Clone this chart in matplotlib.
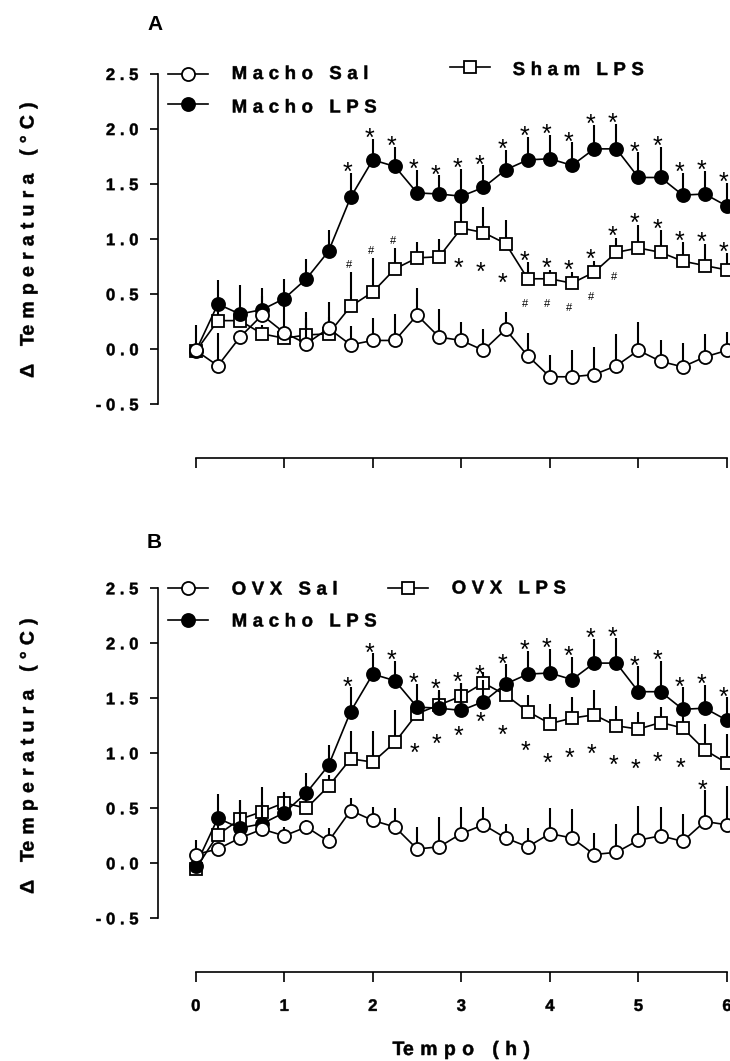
import numpy as np
import matplotlib
matplotlib.use("Agg")
import matplotlib.pyplot as plt
from matplotlib.path import Path
from matplotlib.patheffects import AbstractPathEffect
from matplotlib.transforms import offset_copy
from matplotlib.lines import Line2D

plt.rcParams['font.family'] = ['Liberation Sans', 'DejaVu Sans']

# ---------------- data ----------------
time_h = [0, 0.25, 0.5, 0.75, 1.0, 1.25, 1.5, 1.75, 2.0, 2.25, 2.5, 2.75, 3.0,
          3.25, 3.5, 3.75, 4.0, 4.25, 4.5, 4.75, 5.0, 5.25, 5.5, 5.75, 6.0]

# Panel A
macho_sal = [-0.01, -0.15, 0.11, 0.31, 0.15, 0.05, 0.19, 0.04, 0.08, 0.08, 0.31, 0.11, 0.08,
             -0.01, 0.18, -0.06, -0.25, -0.25, -0.23, -0.15, -0.01, -0.11, -0.16, -0.07, -0.01]
macho_sal_sem = [0.23, 0.30, 0.05, 0.17, 0.25, 0.29, 0.24, 0.17, 0.20, 0.24, 0.25, 0.26, 0.17,
                 0.19, 0.16, 0.21, 0.20, 0.24, 0.25, 0.29, 0.26, 0.19, 0.22, 0.21, 0.17]

macho_lps = [-0.02, 0.41, 0.32, 0.36, 0.46, 0.64, 0.89, 1.38, 1.72, 1.66, 1.42, 1.41, 1.39,
             1.47, 1.63, 1.72, 1.73, 1.67, 1.82, 1.82, 1.56, 1.56, 1.40, 1.41, 1.30]
macho_lps_sem = [0.05, 0.22, 0.26, 0.20, 0.18, 0.18, 0.19, 0.22, 0.19, 0.18, 0.21, 0.17, 0.25,
                 0.20, 0.18, 0.21, 0.22, 0.21, 0.22, 0.23, 0.23, 0.28, 0.20, 0.21, 0.21]

sham_lps = [-0.02, 0.26, 0.26, 0.14, 0.10, 0.13, 0.14, 0.39, 0.52, 0.73, 0.83, 0.84, 1.10,
            1.06, 0.96, 0.64, 0.64, 0.60, 0.70, 0.88, 0.92, 0.88, 0.80, 0.76, 0.72]
sham_lps_sem = [0.05, 0.12, 0.10, 0.08, 0.10, 0.15, 0.15, 0.31, 0.31, 0.19, 0.14, 0.16, 0.30,
                0.23, 0.21, 0.15, 0.08, 0.10, 0.10, 0.13, 0.21, 0.20, 0.17, 0.20, 0.15]

# Panel B
ovx_sal = [0.08, 0.13, 0.23, 0.31, 0.25, 0.33, 0.20, 0.48, 0.39, 0.33, 0.13, 0.15, 0.27,
           0.35, 0.23, 0.15, 0.27, 0.23, 0.08, 0.10, 0.21, 0.25, 0.20, 0.38, 0.35]
ovx_sal_sem = [0.13, 0.05, 0.05, 0.08, 0.08, 0.06, 0.12, 0.11, 0.12, 0.17, 0.20, 0.27, 0.24,
               0.16, 0.13, 0.17, 0.23, 0.26, 0.20, 0.26, 0.31, 0.26, 0.25, 0.29, 0.35]

ovx_lps = [-0.05, 0.26, 0.40, 0.47, 0.55, 0.50, 0.70, 0.95, 0.92, 1.10, 1.36, 1.44, 1.52,
           1.64, 1.53, 1.38, 1.27, 1.32, 1.35, 1.25, 1.22, 1.28, 1.23, 1.03, 0.91]
ovx_lps_sem = [0.05, 0.10, 0.18, 0.22, 0.10, 0.10, 0.10, 0.25, 0.28, 0.29, 0.12, 0.12, 0.12,
               0.10, 0.15, 0.15, 0.18, 0.19, 0.23, 0.18, 0.16, 0.14, 0.19, 0.24, 0.27]

# significance marks (time points)
sig_macho_lps = [1.75, 2.0, 2.25, 2.5, 2.75, 3.0, 3.25, 3.5, 3.75, 4.0, 4.25, 4.5, 4.75,
                 5.0, 5.25, 5.5, 5.75, 6.0]
hash_sham_above = [1.75, 2.0, 2.25]
star_sham_below = [3.0, 3.25, 3.5]
star_sham_above = [3.75, 4.0, 4.25, 4.5, 4.75, 5.0, 5.25, 5.5, 5.75, 6.0]
hash_sham_below = [3.75, 4.0, 4.25, 4.5, 4.75]
star_ovx_below = [2.5, 2.75, 3.0, 3.25, 3.5, 3.75, 4.0, 4.25, 4.5, 4.75, 5.0, 5.25, 5.5, 5.75]

ytick_vals = [-0.5, 0.0, 0.5, 1.0, 1.5, 2.0, 2.5]
ytick_labels = ["-0.5", "0.0", "0.5", "1.0", "1.5", "2.0", "2.5"]
xtick_vals = [0, 1, 2, 3, 4, 5, 6]
xtick_labels = ["0", "1", "2", "3", "4", "5", "6"]

ylabel_text = "\u0394 Temperatura (\u00b0C)"
xlabel_text = "Tempo (h)"


# ---------------- letter spacing effect ----------------
class Tracking(AbstractPathEffect):
    """Spread the glyphs of a text path apart (letter spacing), slightly emboldened."""

    def __init__(self, em, align=0.0, stroke=0.35):
        super().__init__()
        self.em = em
        self.align = align
        self.stroke = stroke

    def draw_path(self, renderer, gc, tpath, affine, rgbFace=None):
        codes = tpath.codes
        verts = np.array(tpath.vertices, dtype=float)
        if codes is None or len(verts) == 0:
            renderer.draw_path(gc, tpath, affine, rgbFace)
            return
        starts = list(np.flatnonzero(codes == Path.MOVETO)) + [len(verts)]
        segs = [(starts[i], starts[i + 1]) for i in range(len(starts) - 1)]
        if not segs:
            renderer.draw_path(gc, tpath, affine, rgbFace)
            return
        rngs = []
        for a, b in segs:
            m = codes[a:b] != Path.CLOSEPOLY
            xs = verts[a:b, 0][m]
            rngs.append((xs.min(), xs.max()))
        order = sorted(range(len(segs)), key=lambda i: rngs[i][0])
        groups = []
        for i in order:
            lo, hi = rngs[i]
            if groups and lo < groups[-1][1] - 0.5:
                groups[-1][1] = max(groups[-1][1], hi)
                groups[-1][2].append(i)
            else:
                groups.append([lo, hi, [i]])
        sp = self.em * 100.0
        shift = 0.0
        prev_hi = None
        shifts = np.zeros(len(verts))
        for g in groups:
            if prev_hi is not None:
                shift += sp
                if g[0] - prev_hi > 22:
                    shift += sp
            for i in g[2]:
                a, b = segs[i]
                shifts[a:b] = shift
            prev_hi = g[1]
        verts[:, 0] += shifts - self.align * shift
        gc0 = renderer.new_gc()
        gc0.copy_properties(gc)
        gc0.set_linewidth(self.stroke)
        gc0.set_joinstyle('round')
        renderer.draw_path(gc0, Path(verts, codes), affine, rgbFace)
        gc0.restore()


ALIGN = {'left': 0.0, 'center': 0.5, 'right': 1.0}


def tracked(em, ha):
    return [Tracking(em, ALIGN.get(ha, 0.0))]


# ---------------- figure ----------------
W, H = 730, 1061
fig = plt.figure(figsize=(W / 100, H / 100), dpi=100)


def fx(px):
    return px / W


def fy(py):
    return 1 - py / H


X0_PX, X6_PX, YAX_PX = 195.7, 727.0, 158.3
px_per_h = (X6_PX - X0_PX) / 6.0
xlim = (-(X0_PX - YAX_PX) / px_per_h, 6.0)

LINE_W = 1.2
MS = 9.4
MEW = 1.3

style_open = dict(marker='o', mfc='white', mec='black', ms=MS, mew=MEW, color='black', lw=LINE_W)
style_fill = dict(marker='o', mfc='black', mec='black', ms=MS, mew=MEW, color='black', lw=LINE_W)
style_sq = dict(marker='s', mfc='white', mec='black', ms=MS - 0.3, mew=MEW, color='black', lw=LINE_W)


def make_axes(top_px, bottom_px, show_xlabels):
    ax = fig.add_axes([fx(YAX_PX), fy(bottom_px), (X6_PX - YAX_PX) / W, (bottom_px - top_px) / H])
    ax.set_xlim(*xlim)
    ax.set_ylim(-0.5, 2.5)
    for s in ('top', 'right'):
        ax.spines[s].set_visible(False)
    ax.spines['left'].set_bounds(-0.5, 2.5)
    ax.spines['bottom'].set_bounds(0, 6)
    ax.spines['bottom'].set_position(('outward', 53.5 * 0.72))
    for s in ('left', 'bottom'):
        ax.spines[s].set_linewidth(1.2)
    ax.set_yticks(ytick_vals)
    ax.set_yticklabels(ytick_labels, fontsize=12, fontweight='bold')
    ax.set_xticks(xtick_vals)
    if show_xlabels:
        ax.set_xticklabels(xtick_labels, fontsize=12, fontweight='bold')
    else:
        ax.set_xticklabels([])
    ax.tick_params(axis='y', direction='out', length=5.8, width=1.2, pad=8.6)
    ax.tick_params(axis='x', direction='out', length=7.0, width=1.2, pad=12.5)
    ax.patch.set_visible(False)
    return ax


def series(ax, y, e, style, z):
    eb = ax.errorbar(time_h, y, yerr=[np.zeros(len(e)), e], fmt='none', ecolor='black',
                     elinewidth=1.5, capsize=0, zorder=z - 0.5)
    for c in eb.lines[2]:
        c.set_clip_on(False)
    ln, = ax.plot(time_h, y, zorder=z, clip_on=False, **style)
    return ln


def mark(ax, x, yc, s, fs, weight, k):
    tr = offset_copy(ax.transData, fig=fig, x=0, y=-k * fs, units='points')
    ax.text(x, yc, s, transform=tr, ha='center', va='baseline', fontsize=fs,
            fontweight=weight, zorder=6, clip_on=False)


def stars_above(ax, times, y, e, sym='*', dy=0.065, dx=-0.04, avoid=None):
    for t in times:
        i = time_h.index(t)
        base = y[i] + e[i]
        if avoid is not None:
            base = max(base, avoid[i] + 0.07)
        if sym == '*':
            mark(ax, t + dx, base + dy, '*', 18, 'normal', 0.575)
        else:
            mark(ax, t + dx, base + dy, '#', 8, 'normal', 0.35)


def marks_below(ax, times, y, sym='*', dy=0.30, dx=-0.03):
    for t in times:
        i = time_h.index(t)
        if sym == '*':
            mark(ax, t + dx, y[i] - dy, '*', 18, 'normal', 0.575)
        else:
            mark(ax, t + dx, y[i] - dy, '#', 8, 'normal', 0.35)


def legend_entry(xc, yc, style, label, text_x, baseline):
    fig.add_artist(Line2D([fx(xc - 20), fx(xc + 20)], [fy(yc), fy(yc)], transform=fig.transFigure,
                          color='black', lw=LINE_W))
    st = dict(style)
    st['lw'] = 0
    fig.add_artist(Line2D([fx(xc)], [fy(yc)], transform=fig.transFigure, **st))
    fig.text(fx(text_x), fy(baseline), label, fontsize=13.4, fontweight='bold', ha='left',
             va='baseline', path_effects=tracked(0.30, 'left'))


def ylabel(center_py):
    fig.text(fx(33.5), fy(center_py), ylabel_text, rotation=90, rotation_mode='anchor',
             ha='center', va='baseline', fontsize=14, fontweight='bold',
             path_effects=tracked(0.32, 'center'))


# ---- Panel A ----
axA = make_axes(74.0, 404.3, False)
series(axA, sham_lps, sham_lps_sem, style_sq, 3)
series(axA, macho_lps, macho_lps_sem, style_fill, 4)
series(axA, macho_sal, macho_sal_sem, style_open, 5)
stars_above(axA, sig_macho_lps, macho_lps, macho_lps_sem)
stars_above(axA, hash_sham_above, sham_lps, sham_lps_sem, sym='#', dy=0.07, dx=-0.02)
stars_above(axA, star_sham_above, sham_lps, sham_lps_sem, dy=0.075)
marks_below(axA, star_sham_below, sham_lps, dy=0.30)
marks_below(axA, hash_sham_below, sham_lps, sym='#', dy=0.22)

legend_entry(188.3, 74, style_open, "Macho Sal", 231.7, 79)
legend_entry(188.3, 103.5, style_fill, "Macho LPS", 231.7, 112.5)
legend_entry(469.5, 66.5, style_sq, "Sham LPS", 512.7, 75)
fig.text(fx(147), fy(30), "A", fontsize=15, fontweight='bold', ha='left', va='baseline')
ylabel(240)

# ---- Panel B ----
axB = make_axes(588.3, 918.3, True)
series(axB, ovx_lps, ovx_lps_sem, style_sq, 3)
series(axB, macho_lps, macho_lps_sem, style_fill, 4)
series(axB, ovx_sal, ovx_sal_sem, style_open, 5)
stars_above(axB, sig_macho_lps, macho_lps, macho_lps_sem, avoid=ovx_lps)
marks_below(axB, star_ovx_below, ovx_lps, dy=0.30)

legend_entry(188.3, 588.3, style_open, "OVX Sal", 231.7, 594.5)
legend_entry(188.3, 620, style_fill, "Macho LPS", 231.7, 626.5)
legend_entry(408, 588.3, style_sq, "OVX LPS", 451.7, 593.5)
fig.text(fx(147), fy(548), "B", fontsize=15, fontweight='bold', ha='left', va='baseline')
ylabel(756)

fig.text(fx(X0_PX + 3 * px_per_h), fy(1055), xlabel_text, ha='center', va='baseline',
         fontsize=14, fontweight='bold', path_effects=tracked(0.33, 'center'))

# apply letter spacing to tick labels
fig.canvas.draw()
for ax in (axA, axB):
    for lbl in ax.get_xticklabels() + ax.get_yticklabels():
        lbl.set_path_effects(tracked(0.28, lbl.get_ha()))

fig.savefig("out.png", dpi=100)
